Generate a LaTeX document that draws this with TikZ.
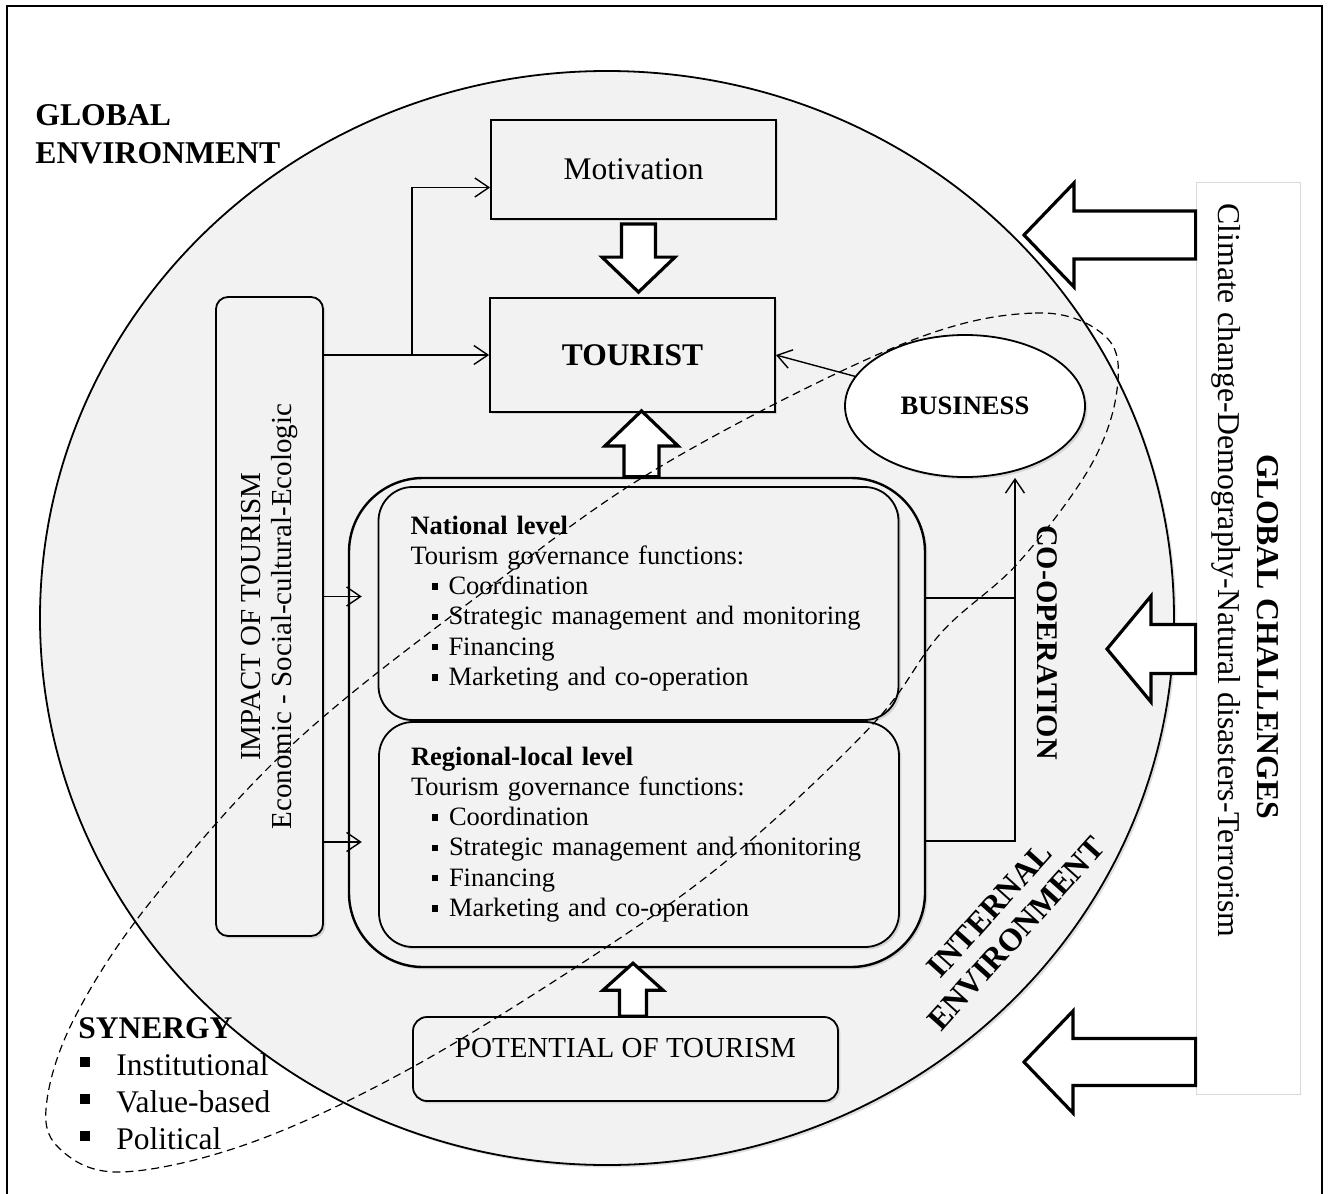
\documentclass[tikz,border=0pt]{standalone}
\usepackage{fontspec}
\setmainfont{Liberation Serif}
\usetikzlibrary{arrows.meta,calc,shapes.geometric,shadows}
\definecolor{envgray}{HTML}{F2F2F2}
\definecolor{framegray}{HTML}{D9D9D9}
\newcommand{\fnbullet}{\hspace*{10.5pt}\raisebox{2.5pt}{\rule{3.2pt}{3.2pt}}\hspace{5.3pt}}
\newcommand{\synbullet}{\hspace*{1pt}\raisebox{4pt}{\rule{5pt}{5pt}}\hspace{13pt}}
\newcommand{\fatarrow}[5]{%
  \coordinate (fa-base) at ($(#2)!#5!(#1)$);
  \draw[fat] ($(#1)!#3!90:(#2)$) -- ($(fa-base)!#3!90:(#2)$)
    -- ($(fa-base)!#4!90:(#2)$) -- (#2)
    -- ($(fa-base)!#4!-90:(#2)$) -- ($(fa-base)!#3!-90:(#2)$)
    -- ($(#1)!#3!-90:(#2)$) -- cycle;}

\begin{document}
\begin{tikzpicture}[x=0.5pt,y=-0.5pt,
 shade/.style={drop shadow={opacity=0.25,shadow xshift=1.2pt,shadow yshift=-1.2pt}},
 box/.style={draw,line width=0.9pt,fill=envgray,inner sep=0pt,shade},
 level/.style={box,rounded corners=17pt,align=left,text width=228pt,
               inner xsep=16pt,font=\fontsize{13.25}{15.15}\selectfont},
 txt/.style={inner sep=0pt},
 link/.style={line width=0.7pt},
 arr/.style={link,-{Straight Barb[length=7pt,width=9.5pt]}},
 fat/.style={draw,line width=1.6pt,fill=white,line join=miter},
 heading/.style={txt,font=\fontsize{15.85}{19}\selectfont\bfseries}]
 \useasboundingbox (0,0) rectangle (1328,1194);
 \draw[link] (7,1200) |- (1322,6) -- (1322,1200);
 % environment
 \draw[line width=0.9pt,fill=envgray,shade] (607,618)
   ellipse [x radius=283.5pt,y radius=273.5pt];
 \node[heading,align=left,anchor=north west] (genv) at (35,104)
   {GLOBAL\\ENVIRONMENT};

 \node[box,minimum width=142.5pt,minimum height=49.5pt,
   font=\fontsize{15.75}{18}\selectfont] (motivation) at (633.5,169.5) {Motivation};
 \node[box,minimum width=142.5pt,minimum height=57pt,
   font=\fontsize{15.75}{18}\selectfont\bfseries] (tourist) at (632.5,355) {TOURIST};
 \node[box,rounded corners=6pt,minimum width=53.5pt,minimum height=319.5pt]
   (impact) at (269.5,616.5) {};
 \node[txt,rotate=90,align=center,font=\fontsize{14.5}{15.5}\selectfont]
   (impacttext) at (impact.center)
   {IMPACT OF TOURISM\\Economic - Social-cultural-Ecologic};
 \node[box,rounded corners=37pt,line width=1.2pt,minimum width=288pt,
   minimum height=244.5pt] (outer) at (637,722.5) {};
 \node[level,minimum height=116.5pt] (natl) at (638.5,603.5)
   {\textbf{National level}\\Tourism governance functions:\\
    \fnbullet Coordination\\
    \fnbullet Strategic management and monitoring\\
    \fnbullet Financing\\
    \fnbullet Marketing and co-operation};
 \node[level,minimum height=112.5pt] (regional) at (639,834.5)
   {\textbf{Regional-local level}\\Tourism governance functions:\\
    \fnbullet Coordination\\
    \fnbullet Strategic management and monitoring\\
    \fnbullet Financing\\
    \fnbullet Marketing and co-operation};
 \node[box,rounded corners=7pt,minimum width=212.5pt,minimum height=42pt]
   (potential) at (625.5,1059) {};
 \node[txt,anchor=base,font=\fontsize{14.5}{17}\selectfont] (pottext)
   at ([yshift=-20.5pt]potential.north) {POTENTIAL OF TOURISM};
 \node[ellipse,draw,line width=0.9pt,fill=white,shade,minimum width=120pt,
   minimum height=71pt,inner sep=0pt,font=\fontsize{13.3}{16}\selectfont\bfseries]
   (business) at (965,406) {BUSINESS};

 \node[draw=framegray,fill=white,minimum width=52pt,minimum height=456pt]
   (gc) at (1248,638) {};
 \node[txt,rotate=-90,anchor=base,font=\fontsize{15.9}{19}\selectfont\bfseries]
   (gctitle) at (1257,636.5) {GLOBAL CHALLENGES};
 \node[txt,rotate=-90,anchor=base west,font=\fontsize{15.9}{19}\selectfont]
   (gcitems) at (1218,203) {Climate change-Demography-Natural disasters-Terrorism};
 \node[txt,rotate=-90,anchor=base,font=\fontsize{15}{18}\selectfont\bfseries]
   (coop) at (1037,642.5) {CO-OPERATION};
 \node[txt,rotate=48,align=center,font=\fontsize{16}{17.8}\selectfont\bfseries]
   (intenv) at (1003,922) {INTERNAL\\ENVIRONMENT};
 \node[txt,anchor=north west,align=left,font=\fontsize{15.75}{18.5}\selectfont]
   (synergy) at (78,1017)
   {\textbf{SYNERGY}\\\synbullet Institutional\\\synbullet Value-based\\\synbullet Political};

 % connectors
 \coordinate (split) at (412,355);
 \draw[arr] (impact.east |- tourist.west) -- (tourist.west);
 \draw[arr] (split) |- ([yshift=-9pt]motivation.west);
 \draw[arr] ([yshift=3.5pt]impact.east |- natl.west) --
   ([xshift=7pt,yshift=3.5pt]outer.west |- natl.west);
 \draw[arr] ([yshift=-3.75pt]impact.east |- regional.west) --
   ([xshift=7pt,yshift=-3.75pt]outer.west |- regional.west);
 \draw[arr] (business) -- (tourist.east);
 \coordinate (cooptop) at ([xshift=25pt]business.south);
 \draw[arr] ([yshift=-3.25pt]outer.east |- regional.east) -| (cooptop);
 \draw[link] ([yshift=2.75pt]outer.east |- natl.east) --
   ([yshift=2.75pt]cooptop |- natl.east);

 % block arrows
 \coordinate (mt-tail) at ([xshift=2.5pt,yshift=-2pt]motivation.south);
 \coordinate (mt-tip) at ([yshift=2.5pt]mt-tail |- tourist.north);
 \fatarrow{mt-tail}{mt-tip}{8.5pt}{18.25pt}{17.5pt}
 \coordinate (nt-tail) at ([xshift=2.25pt]outer.north);
 \coordinate (nt-tip) at ([yshift=1pt]nt-tail |- tourist.south);
 \fatarrow{nt-tail}{nt-tip}{8.75pt}{18.25pt}{17.5pt}
 \coordinate (pt-tail) at ([xshift=3.75pt]potential.north);
 \coordinate (pt-tip) at ([yshift=2.5pt]pt-tail |- outer.south);
 \fatarrow{pt-tail}{pt-tip}{6.75pt}{15pt}{13.5pt}
 \coordinate (gc-tipA) at (1024,235);
 \coordinate (gc-tipB) at (1107,649);
 \coordinate (gc-tipC) at (1024,1062);
 \fatarrow{gc.west |- gc-tipA}{gc-tipA}{12pt}{26pt}{25pt}
 \fatarrow{gc.west |- gc-tipB}{gc-tipB}{12.25pt}{26.5pt}{22pt}
 \fatarrow{gc.west |- gc-tipC}{gc-tipC}{11.75pt}{25.5pt}{24.5pt}

 % synergy
 \draw[dash pattern=on 4pt off 2.5pt,line width=0.6pt]
   plot[smooth cycle,tension=0.6] coordinates {(900,345) (1035,313) (1106,337)
   (1117,390) (1090,467) (1018,563) (941,633) (874,723) (736,853) (602,950)
   (411,1068) (250,1143) (120,1172) (58,1147) (47,1100) (76,1015) (152,900)
   (294,743) (486,590) (663,465)};
\end{tikzpicture}
\end{document}
